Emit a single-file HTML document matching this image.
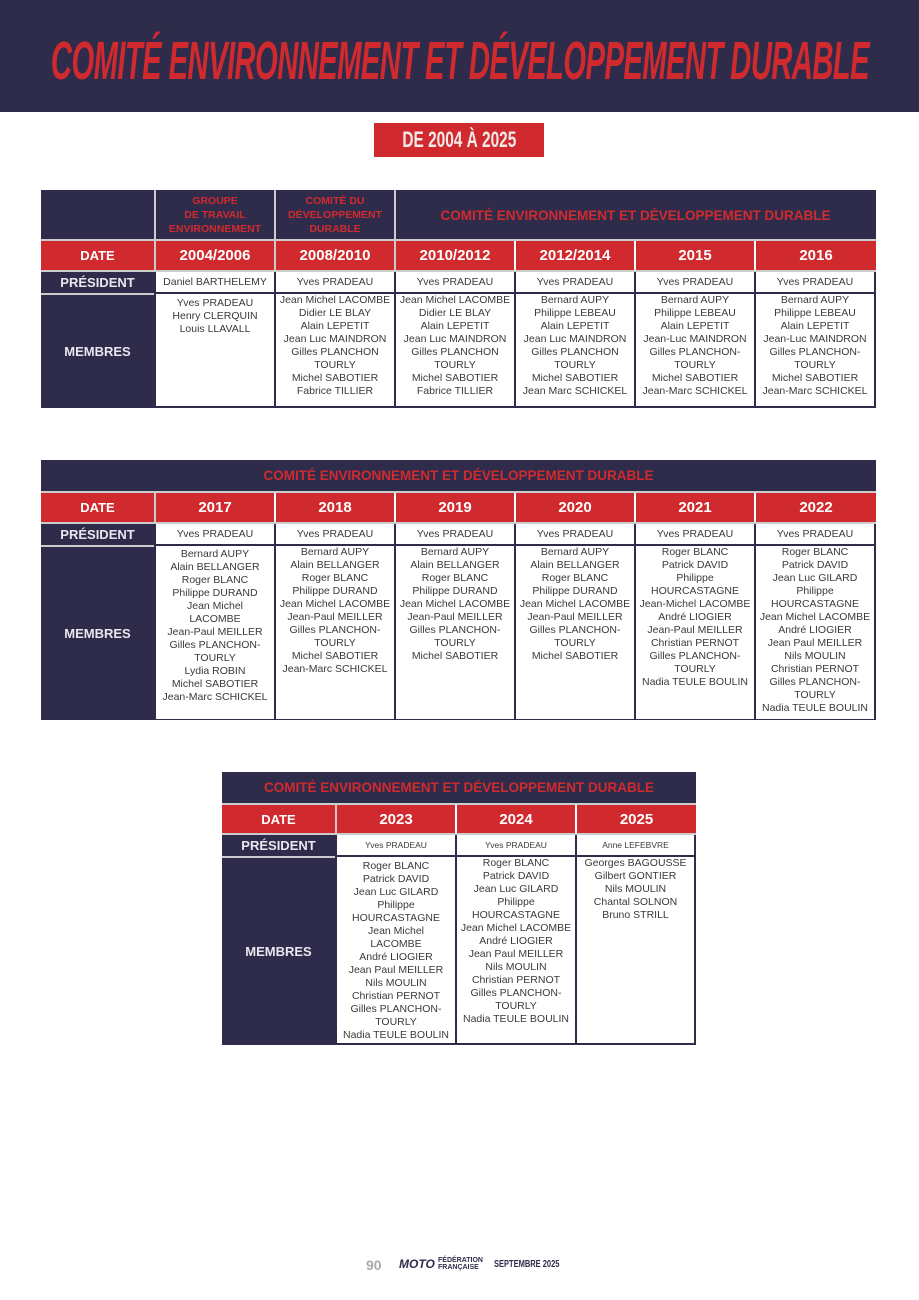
<!DOCTYPE html>
<html><head><meta charset="utf-8"><style>
*{margin:0;padding:0;box-sizing:border-box}
body{width:919px;height:1300px;background:#fff;position:relative;font-family:"Liberation Sans",sans-serif;overflow:hidden}
.a{position:absolute}
.dk{background:#2f2c4b}
.rd{background:#d12a2e}
.lbl{position:absolute;color:#e8e6ee;font-weight:bold;font-size:13px;display:flex;align-items:center;justify-content:center;background:#2f2c4b}
.dt{position:absolute;background:#d12a2e;color:#fff;font-weight:bold;font-size:15px;display:flex;align-items:center;justify-content:center}
.w{position:absolute;background:#fff;color:#3a3a3a;font-size:10.5px;text-align:center;line-height:13px}
.p{display:flex;align-items:center;justify-content:center}
.hd{position:absolute;color:#d12a2e;font-weight:bold;text-align:center;display:flex;align-items:center;justify-content:center}
</style></head><body>
<div class="a dk" style="left:0;top:0;width:919px;height:112px"></div>
<div class="a" style="left:50%;top:34px;color:#d12a2e;font-weight:bold;font-style:italic;font-size:54px;line-height:54px;transform-origin:0 0;transform:scaleX(0.54) translateX(-50%);white-space:nowrap;letter-spacing:-1px">COMITÉ ENVIRONNEMENT ET DÉVELOPPEMENT DURABLE</div>
<div class="a rd" style="left:374px;top:123px;width:170px;height:34px;color:#f2e9e9;font-weight:bold;font-size:22px;display:flex;align-items:center;justify-content:center"><span style="display:inline-block;transform:scaleX(0.7);white-space:nowrap">DE 2004 À 2025</span></div>

<!-- TABLE 1 -->
<div class="a dk" style="left:41px;top:190px;width:835px;height:50px"></div>
<div class="a" style="left:154px;top:190px;width:2px;height:80px;background:#ccc"></div>
<div class="a" style="left:274px;top:190px;width:2px;height:80px;background:#ccc"></div>
<div class="a" style="left:394px;top:190px;width:2px;height:80px;background:#ccc"></div>
<div class="hd" style="left:155px;top:190px;width:120px;height:50px;font-size:10.5px;line-height:14px">GROUPE<br>DE TRAVAIL<br>ENVIRONNEMENT</div>
<div class="hd" style="left:275px;top:190px;width:120px;height:50px;font-size:10.5px;line-height:14px">COMITÉ DU<br>DÉVELOPPEMENT<br>DURABLE</div>
<div class="hd" style="left:395px;top:190px;width:481px;height:50px;font-size:13.5px">COMITÉ ENVIRONNEMENT ET DÉVELOPPEMENT DURABLE</div>
<div class="a" style="left:41px;top:239px;width:835px;height:2px;background:#ccc"></div>
<div class="lbl" style="left:41px;top:241px;width:113px;height:29px;background:#d12a2e;color:#fff">DATE</div>
<div class="dt" style="left:156px;top:241px;width:118px;height:29px">2004/2006</div>
<div class="dt" style="left:276px;top:241px;width:118px;height:29px">2008/2010</div>
<div class="dt" style="left:396px;top:241px;width:118px;height:29px">2010/2012</div>
<div class="dt" style="left:516px;top:241px;width:118px;height:29px">2012/2014</div>
<div class="dt" style="left:636px;top:241px;width:118px;height:29px">2015</div>
<div class="dt" style="left:756px;top:241px;width:120px;height:29px">2016</div>
<div class="a" style="left:41px;top:270px;width:835px;height:2px;background:#ccc"></div>
<div class="a dk" style="left:41px;top:272px;width:835px;height:136px"></div>
<div class="lbl" style="left:41px;top:272px;width:113px;height:21px">PRÉSIDENT</div>
<div class="a" style="left:41px;top:293px;width:113px;height:2px;background:#ccc"></div>
<div class="lbl" style="left:41px;top:295px;width:113px;height:112px">MEMBRES</div>
<div class="w p" style="left:156px;top:272px;width:118px;height:20px">Daniel BARTHELEMY</div>
<div class="w p" style="left:276px;top:272px;width:118px;height:20px">Yves PRADEAU</div>
<div class="w p" style="left:396px;top:272px;width:118px;height:20px">Yves PRADEAU</div>
<div class="w p" style="left:516px;top:272px;width:118px;height:20px">Yves PRADEAU</div>
<div class="w p" style="left:636px;top:272px;width:118px;height:20px">Yves PRADEAU</div>
<div class="w p" style="left:756px;top:272px;width:118px;height:20px">Yves PRADEAU</div>
<div class="w" style="left:156px;top:294px;width:118px;height:112px;padding-top:3px">Yves PRADEAU<br>Henry CLERQUIN<br>Louis LLAVALL</div>
<div class="w" style="left:276px;top:294px;width:118px;height:112px">Jean Michel LACOMBE<br>Didier LE BLAY<br>Alain LEPETIT<br>Jean Luc MAINDRON<br>Gilles PLANCHON<br>TOURLY<br>Michel SABOTIER<br>Fabrice TILLIER</div>
<div class="w" style="left:396px;top:294px;width:118px;height:112px">Jean Michel LACOMBE<br>Didier LE BLAY<br>Alain LEPETIT<br>Jean Luc MAINDRON<br>Gilles PLANCHON<br>TOURLY<br>Michel SABOTIER<br>Fabrice TILLIER</div>
<div class="w" style="left:516px;top:294px;width:118px;height:112px">Bernard AUPY<br>Philippe LEBEAU<br>Alain LEPETIT<br>Jean Luc MAINDRON<br>Gilles PLANCHON<br>TOURLY<br>Michel SABOTIER<br>Jean Marc SCHICKEL</div>
<div class="w" style="left:636px;top:294px;width:118px;height:112px">Bernard AUPY<br>Philippe LEBEAU<br>Alain LEPETIT<br>Jean-Luc MAINDRON<br>Gilles PLANCHON-<br>TOURLY<br>Michel SABOTIER<br>Jean-Marc SCHICKEL</div>
<div class="w" style="left:756px;top:294px;width:118px;height:112px">Bernard AUPY<br>Philippe LEBEAU<br>Alain LEPETIT<br>Jean-Luc MAINDRON<br>Gilles PLANCHON-<br>TOURLY<br>Michel SABOTIER<br>Jean-Marc SCHICKEL</div>

<!-- TABLE 2 -->
<div class="a dk" style="left:41px;top:460px;width:835px;height:31px"></div>
<div class="hd" style="left:41px;top:460px;width:835px;height:31px;font-size:13.5px">COMITÉ ENVIRONNEMENT ET DÉVELOPPEMENT DURABLE</div>
<div class="a" style="left:41px;top:491px;width:835px;height:2px;background:#ccc"></div>
<div class="lbl" style="left:41px;top:493px;width:113px;height:29px;background:#d12a2e;color:#fff">DATE</div>
<div class="a" style="left:154px;top:493px;width:2px;height:29px;background:#ccc"></div>
<div class="dt" style="left:156px;top:493px;width:118px;height:29px">2017</div>
<div class="dt" style="left:276px;top:493px;width:118px;height:29px">2018</div>
<div class="dt" style="left:396px;top:493px;width:118px;height:29px">2019</div>
<div class="dt" style="left:516px;top:493px;width:118px;height:29px">2020</div>
<div class="dt" style="left:636px;top:493px;width:118px;height:29px">2021</div>
<div class="dt" style="left:756px;top:493px;width:120px;height:29px">2022</div>
<div class="a" style="left:41px;top:522px;width:835px;height:2px;background:#ccc"></div>
<div class="a dk" style="left:41px;top:524px;width:835px;height:196px"></div>
<div class="lbl" style="left:41px;top:524px;width:113px;height:21px">PRÉSIDENT</div>
<div class="a" style="left:41px;top:545px;width:113px;height:2px;background:#ccc"></div>
<div class="lbl" style="left:41px;top:547px;width:113px;height:172px">MEMBRES</div>
<div class="w p" style="left:156px;top:524px;width:118px;height:20px">Yves PRADEAU</div>
<div class="w p" style="left:276px;top:524px;width:118px;height:20px">Yves PRADEAU</div>
<div class="w p" style="left:396px;top:524px;width:118px;height:20px">Yves PRADEAU</div>
<div class="w p" style="left:516px;top:524px;width:118px;height:20px">Yves PRADEAU</div>
<div class="w p" style="left:636px;top:524px;width:118px;height:20px">Yves PRADEAU</div>
<div class="w p" style="left:756px;top:524px;width:118px;height:20px">Yves PRADEAU</div>
<div class="w" style="left:156px;top:546px;width:118px;height:173px;padding-top:2px">Bernard AUPY<br>Alain BELLANGER<br>Roger BLANC<br>Philippe DURAND<br>Jean Michel<br>LACOMBE<br>Jean-Paul MEILLER<br>Gilles PLANCHON-<br>TOURLY<br>Lydia ROBIN<br>Michel SABOTIER<br>Jean-Marc SCHICKEL</div>
<div class="w" style="left:276px;top:546px;width:118px;height:173px">Bernard AUPY<br>Alain BELLANGER<br>Roger BLANC<br>Philippe DURAND<br>Jean Michel LACOMBE<br>Jean-Paul MEILLER<br>Gilles PLANCHON-<br>TOURLY<br>Michel SABOTIER<br>Jean-Marc SCHICKEL</div>
<div class="w" style="left:396px;top:546px;width:118px;height:173px">Bernard AUPY<br>Alain BELLANGER<br>Roger BLANC<br>Philippe DURAND<br>Jean Michel LACOMBE<br>Jean-Paul MEILLER<br>Gilles PLANCHON-<br>TOURLY<br>Michel SABOTIER</div>
<div class="w" style="left:516px;top:546px;width:118px;height:173px">Bernard AUPY<br>Alain BELLANGER<br>Roger BLANC<br>Philippe DURAND<br>Jean Michel LACOMBE<br>Jean-Paul MEILLER<br>Gilles PLANCHON-<br>TOURLY<br>Michel SABOTIER</div>
<div class="w" style="left:636px;top:546px;width:118px;height:173px">Roger BLANC<br>Patrick DAVID<br>Philippe<br>HOURCASTAGNE<br>Jean-Michel LACOMBE<br>André LIOGIER<br>Jean-Paul MEILLER<br>Christian PERNOT<br>Gilles PLANCHON-<br>TOURLY<br>Nadia TEULE BOULIN</div>
<div class="w" style="left:756px;top:546px;width:118px;height:173px">Roger BLANC<br>Patrick DAVID<br>Jean Luc GILARD<br>Philippe<br>HOURCASTAGNE<br>Jean Michel LACOMBE<br>André LIOGIER<br>Jean Paul MEILLER<br>Nils MOULIN<br>Christian PERNOT<br>Gilles PLANCHON-<br>TOURLY<br>Nadia TEULE BOULIN</div>

<!-- TABLE 3 -->
<div class="a dk" style="left:222px;top:772px;width:474px;height:31px"></div>
<div class="hd" style="left:222px;top:772px;width:474px;height:31px;font-size:13.5px">COMITÉ ENVIRONNEMENT ET DÉVELOPPEMENT DURABLE</div>
<div class="a" style="left:222px;top:803px;width:474px;height:2px;background:#ccc"></div>
<div class="lbl" style="left:222px;top:805px;width:113px;height:28px;background:#d12a2e;color:#fff">DATE</div>
<div class="a" style="left:335px;top:805px;width:2px;height:28px;background:#ccc"></div>
<div class="dt" style="left:337px;top:805px;width:118px;height:28px">2023</div>
<div class="dt" style="left:457px;top:805px;width:118px;height:28px">2024</div>
<div class="dt" style="left:577px;top:805px;width:119px;height:28px">2025</div>
<div class="a" style="left:222px;top:833px;width:474px;height:2px;background:#ccc"></div>
<div class="a dk" style="left:222px;top:835px;width:474px;height:210px"></div>
<div class="lbl" style="left:222px;top:835px;width:113px;height:21px">PRÉSIDENT</div>
<div class="a" style="left:222px;top:856px;width:113px;height:2px;background:#ccc"></div>
<div class="lbl" style="left:222px;top:858px;width:113px;height:186px">MEMBRES</div>
<div class="w p" style="left:337px;top:835px;width:118px;height:20px;font-size:8.5px">Yves PRADEAU</div>
<div class="w p" style="left:457px;top:835px;width:118px;height:20px;font-size:8.5px">Yves PRADEAU</div>
<div class="w p" style="left:577px;top:835px;width:117px;height:20px;font-size:8.5px">Anne LEFEBVRE</div>
<div class="w" style="left:337px;top:857px;width:118px;height:186px;padding-top:3px">Roger BLANC<br>Patrick DAVID<br>Jean Luc GILARD<br>Philippe<br>HOURCASTAGNE<br>Jean Michel<br>LACOMBE<br>André LIOGIER<br>Jean Paul MEILLER<br>Nils MOULIN<br>Christian PERNOT<br>Gilles PLANCHON-<br>TOURLY<br>Nadia TEULE BOULIN</div>
<div class="w" style="left:457px;top:857px;width:118px;height:186px">Roger BLANC<br>Patrick DAVID<br>Jean Luc GILARD<br>Philippe<br>HOURCASTAGNE<br>Jean Michel LACOMBE<br>André LIOGIER<br>Jean Paul MEILLER<br>Nils MOULIN<br>Christian PERNOT<br>Gilles PLANCHON-<br>TOURLY<br>Nadia TEULE BOULIN</div>
<div class="w" style="left:577px;top:857px;width:117px;height:186px">Georges BAGOUSSE<br>Gilbert GONTIER<br>Nils MOULIN<br>Chantal SOLNON<br>Bruno STRILL</div>

<!-- footer -->
<div class="a" style="left:366px;top:1257px;font-size:14px;font-weight:bold;color:#aaa">90</div>
<div class="a" style="left:399px;top:1257px;font-size:12px;font-weight:bold;font-style:italic;color:#2f2c4b">MOTO</div>
<div class="a" style="left:438px;top:1257px;font-size:7px;line-height:7px;font-weight:bold;color:#2f2c4b">FÉDÉRATION<br>FRANÇAISE</div>
<div class="a" style="left:494px;top:1259px;font-size:10px;font-weight:bold;color:#2f2c4b;transform:scaleX(0.75);transform-origin:left">SEPTEMBRE 2025</div>
</body></html>
